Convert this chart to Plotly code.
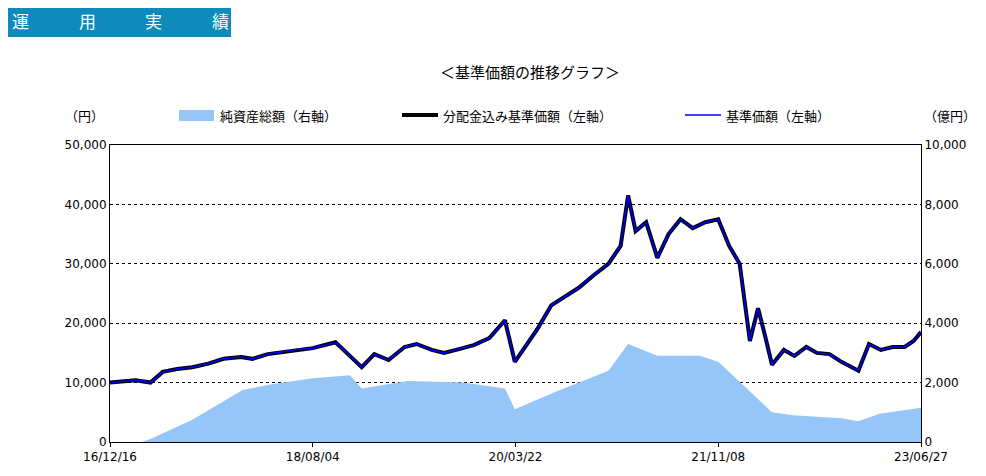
import plotly.graph_objects as go

price_dates = ["2016-12-16","2017-01-20","2017-03-01","2017-04-14","2017-05-20","2017-07-01","2017-08-15","2017-10-01","2017-11-15","2018-01-05","2018-02-08","2018-03-25","2018-05-10","2018-06-25","2018-08-04","2018-09-20","2018-10-10","2018-11-21","2018-12-26","2019-02-01","2019-03-15","2019-05-01","2019-06-05","2019-07-20","2019-08-25","2019-10-05","2019-11-20","2020-01-05","2020-02-20","2020-03-20","2020-04-20","2020-05-25","2020-07-05","2020-08-15","2020-09-25","2020-11-05","2020-12-20","2021-01-25","2021-02-16","2021-03-10","2021-04-10","2021-05-13","2021-06-15","2021-07-20","2021-08-25","2021-10-01","2021-11-08","2021-12-10","2022-01-10","2022-02-09","2022-03-05","2022-03-25","2022-04-15","2022-05-20","2022-06-20","2022-07-25","2022-08-25","2022-10-01","2022-11-05","2022-12-25","2023-01-25","2023-03-01","2023-04-05","2023-05-10","2023-06-05","2023-06-27"]
price_values = [10000,10200,10400,10000,11800,12300,12600,13200,14000,14300,14000,14800,15200,15600,15800,16500,16800,14500,12600,14800,13800,16000,16500,15500,15000,15600,16300,17500,20500,13500,16000,19000,23000,24500,26000,28000,30000,33000,41500,35500,37000,31000,35000,37500,36000,37000,37500,33000,30000,17000,22500,18000,13000,15500,14500,16000,15000,14800,13500,12000,16500,15500,16000,16000,17000,18500]

nav_dates = ["2016-12-16","2017-03-20","2017-04-14","2017-08-15","2018-01-10","2018-04-10","2018-08-04","2018-11-21","2018-12-26","2019-05-10","2019-10-20","2020-02-20","2020-03-20","2020-07-20","2020-12-20","2021-02-16","2021-05-13","2021-09-15","2021-11-08","2022-02-09","2022-04-15","2022-06-15","2022-11-05","2022-12-25","2023-02-25","2023-06-27"]
nav_values = [0,0,100,750,1750,1950,2150,2250,1800,2050,2000,1800,1100,1700,2400,3300,2900,2900,2700,1700,1000,900,800,700,950,1150]

tick_vals = ["2016-12-16","2018-08-04","2020-03-22","2021-11-08","2023-06-27"]
tick_text = ["16/12/16","18/08/04","20/03/22","21/11/08","23/06/27"]
header_chars = ["運", "用", "実", "績"]

font = "Noto Sans CJK JP"
W = 811.0
H = 297.0
def px(x):
    return (x - 110) / W
def py(y):
    return (442 - y) / H

fig = go.Figure()
fig.add_trace(go.Scatter(x=nav_dates, y=nav_values, yaxis="y2", fill="tozeroy", mode="lines",
                         line=dict(width=0, color="#96c5f8"), fillcolor="#96c5f8", name="純資産総額（右軸）"))
fig.add_trace(go.Scatter(x=price_dates, y=price_values, mode="lines", line=dict(color="black", width=4),
                         name="分配金込み基準価額（左軸）"))
fig.add_trace(go.Scatter(x=price_dates, y=price_values, mode="lines", line=dict(color="#0000ff", width=1.5),
                         name="基準価額（左軸）"))

shapes = [
    dict(type="rect", xref="paper", yref="paper", x0=px(5), x1=px(231), y0=py(37), y1=py(5),
         fillcolor="#0e8abb", line=dict(width=0), layer="below"),
    dict(type="rect", xref="paper", yref="paper", x0=px(179), x1=px(214), y0=py(121), y1=py(110),
         fillcolor="#96c5f8", line=dict(width=0)),
    dict(type="line", xref="paper", yref="paper", x0=px(402), x1=px(438), y0=py(115), y1=py(115),
         line=dict(color="black", width=4)),
    dict(type="line", xref="paper", yref="paper", x0=px(685), x1=px(721), y0=py(115), y1=py(115),
         line=dict(color="#0000ff", width=1.5)),
]
def ann(text, x, y, size=13, anchor="left", color="black"):
    return dict(text=text, xref="paper", yref="paper", x=px(x), y=py(y), xanchor=anchor,
                yanchor="middle", showarrow=False, font=dict(size=size, color=color))
annotations = [ann(c, 10 + i * 66.5, 21, 17, color="white") for i, c in enumerate(header_chars)]
annotations += [
    ann("＜基準価額の推移グラフ＞", 530, 72, 15, "center"),
    ann("（円）", 84, 115, 13, "center"),
    ann("（億円）", 950, 115, 13, "center"),
    ann("純資産総額（右軸）", 218, 115),
    ann("分配金込み基準価額（左軸）", 441, 115),
    ann("基準価額（左軸）", 724, 115),
]

fig.update_layout(
    width=978, height=468, margin=dict(l=102, r=65, t=137, b=34),
    paper_bgcolor="white", plot_bgcolor="white",
    font=dict(family=font, size=12, color="black"),
    showlegend=False,
    xaxis=dict(type="date", range=["2016-12-16","2023-06-27"], tickvals=tick_vals, ticktext=tick_text,
               showgrid=False, showline=True, linecolor="black", mirror=True, ticks="outside",
               ticklen=4, tickcolor="black", tickfont=dict(size=12, family="DejaVu Sans")),
    yaxis=dict(range=[0,50000], dtick=10000, tickformat=",", showgrid=True, gridcolor="black",
               griddash="dot", gridwidth=1, showline=True, linecolor="black", ticks="",
               tickfont=dict(size=12, family="DejaVu Sans"), zeroline=False),
    yaxis2=dict(range=[0,10000], dtick=2000, tickformat=",", overlaying="y", side="right",
                showgrid=False, showline=True, linecolor="black", tickfont=dict(size=12, family="DejaVu Sans"),
                zeroline=False),
    shapes=shapes, annotations=annotations,
)
fig.write_html("out.html")
